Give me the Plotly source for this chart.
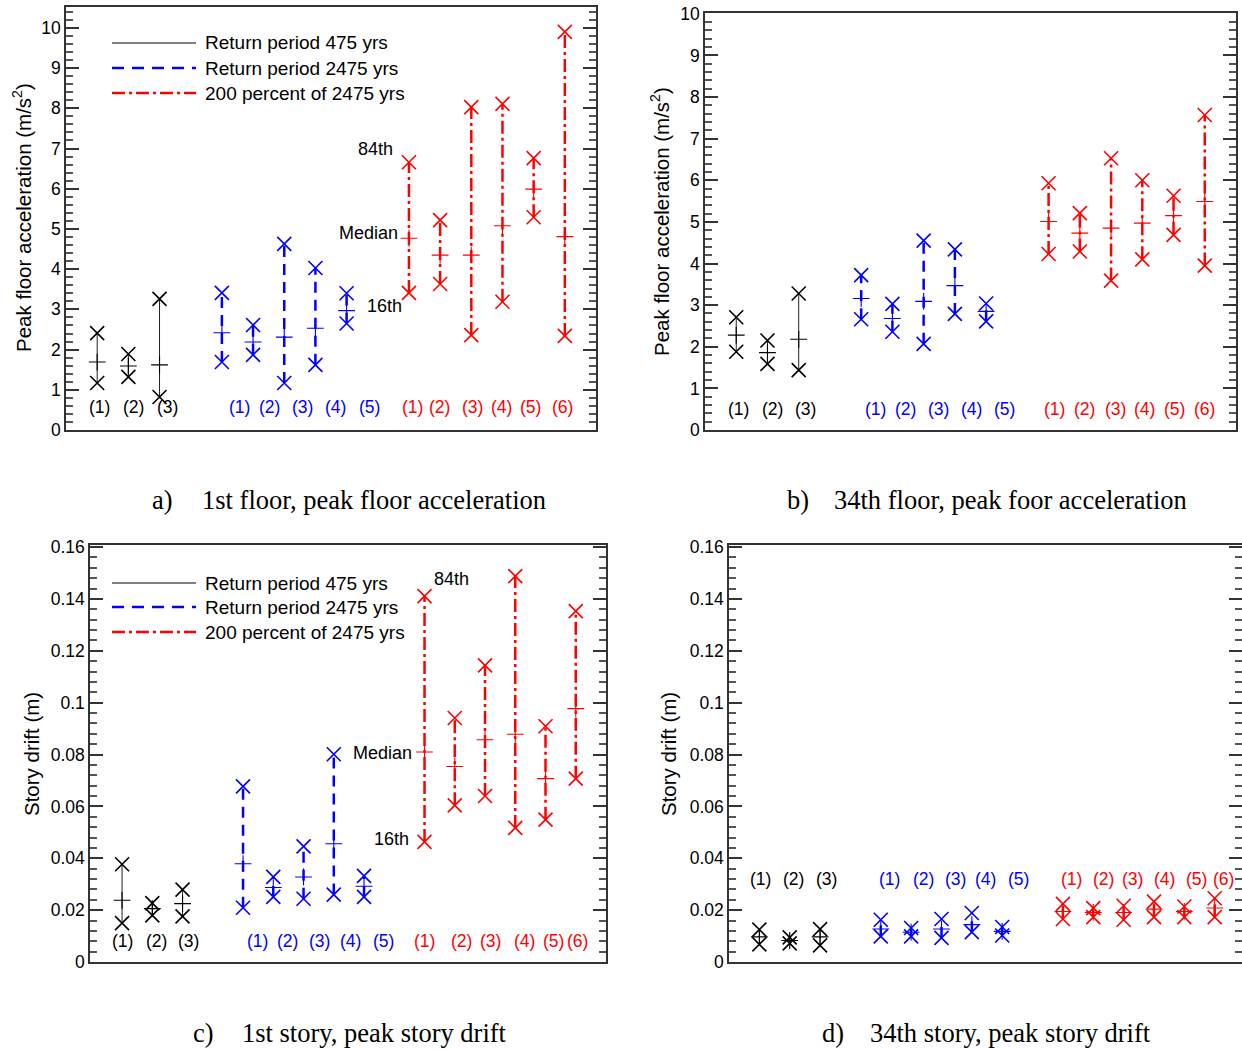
import plotly.graph_objects as go

# ---------------- DATA ----------------
black_x = [1, 2, 3]
blue_x = [5, 6, 7, 8, 9]
red_x = [11, 12, 13, 14, 15, 16]

black_labels = ["(1)", "(2)", "(3)"]
blue_labels = ["(1)", "(2)", "(3)", "(4)", "(5)"]
red_labels = ["(1)", "(2)", "(3)", "(4)", "(5)", "(6)"]

# a) 1st floor PFA (m/s2): 84th / median / 16th
a_black_hi = [2.41, 1.89, 3.26]
a_black_med = [1.69, 1.59, 1.62]
a_black_lo = [1.17, 1.32, 0.82]
a_blue_hi = [3.41, 2.61, 4.63, 4.03, 3.40]
a_blue_med = [2.42, 2.19, 2.31, 2.53, 2.97]
a_blue_lo = [1.69, 1.87, 1.17, 1.62, 2.65]
a_red_hi = [6.66, 5.22, 8.03, 8.11, 6.76, 9.90]
a_red_med = [4.77, 4.35, 4.35, 5.08, 5.99, 4.81]
a_red_lo = [3.41, 3.63, 2.36, 3.19, 5.29, 2.34]

# b) 34th floor PFA (m/s2)
b_black_hi = [2.71, 2.15, 3.28]
b_black_med = [2.28, 1.86, 2.18]
b_black_lo = [1.88, 1.59, 1.44]
b_blue_hi = [3.72, 3.03, 4.55, 4.34, 3.04]
b_blue_med = [3.16, 2.68, 3.09, 3.47, 2.85]
b_blue_lo = [2.66, 2.36, 2.07, 2.79, 2.61]
b_red_hi = [5.93, 5.21, 6.53, 6.00, 5.63, 7.57]
b_red_med = [5.01, 4.73, 4.85, 4.97, 5.15, 5.49]
b_red_lo = [4.23, 4.29, 3.59, 4.10, 4.69, 3.95]

# c) 1st story drift (m)
c_black_hi = [0.0377, 0.0227, 0.0279]
c_black_med = [0.0238, 0.0206, 0.0225]
c_black_lo = [0.0150, 0.0180, 0.0176]
c_blue_hi = [0.0677, 0.0328, 0.0446, 0.0801, 0.0332]
c_blue_med = [0.0379, 0.0287, 0.0328, 0.0456, 0.0292]
c_blue_lo = [0.0209, 0.0251, 0.0244, 0.0260, 0.0251]
c_red_hi = [0.1411, 0.0941, 0.1144, 0.1488, 0.0909, 0.1353]
c_red_med = [0.0810, 0.0754, 0.0857, 0.0878, 0.0707, 0.0977]
c_red_lo = [0.0463, 0.0604, 0.0640, 0.0517, 0.0549, 0.0707]

# d) 34th story drift (m)
d_black_hi = [0.0125, 0.0095, 0.0127]
d_black_med = [0.0097, 0.0083, 0.0097]
d_black_lo = [0.0068, 0.0072, 0.0064]
d_blue_hi = [0.0163, 0.0131, 0.0166, 0.0189, 0.0135]
d_blue_med = [0.0127, 0.0115, 0.0127, 0.0144, 0.0118]
d_blue_lo = [0.0099, 0.0099, 0.0093, 0.0115, 0.0102]
d_red_hi = [0.0224, 0.0208, 0.0217, 0.0233, 0.0214, 0.0246]
d_red_med = [0.0195, 0.0191, 0.0191, 0.0204, 0.0195, 0.0208]
d_red_lo = [0.0166, 0.0173, 0.0163, 0.0173, 0.0173, 0.0173]

legend_names = ["Return period 475 yrs", "Return period 2475 yrs", "200 percent of 2475 yrs"]

# ---------------- STYLE / LAYOUT ----------------
W, H = 1242, 1049
SANS = "Liberation Sans, Arial, sans-serif"
SERIF = "Liberation Serif, Times New Roman, serif"
BLACK, BLUE, RED = "#000000", "#0000FF", "#FF0000"
REDDASH = "13px,4px,3px,4px"
BLUEDASH = "11px,7px"

def px(x):
    return x / W

def py(y):
    return 1 - y / H

panels = {
    "a": dict(ax="1", xdom=[px(66), px(596)], ydom=[py(430), py(7)], xr=[0, 17], yr=[0, 10.52],
              dtick=1, mdtick=0.2,
              data=[(a_black_lo, a_black_med, a_black_hi), (a_blue_lo, a_blue_med, a_blue_hi),
                    (a_red_lo, a_red_med, a_red_hi)],
              labx=[[1.06, 2.15, 3.24], [5.55, 6.54, 7.60, 8.63, 9.72],
                    [11.10, 11.99, 13.05, 13.98, 14.91, 15.91]],
              laby=0.57),
    "b": dict(ax="2", xdom=[px(705), px(1236)], ydom=[py(430), py(13)], xr=[0, 17], yr=[0, 10.02],
              dtick=1, mdtick=0.2,
              data=[(b_black_lo, b_black_med, b_black_hi), (b_blue_lo, b_blue_med, b_blue_hi),
                    (b_red_lo, b_red_med, b_red_hi)],
              labx=[[1.06, 2.15, 3.21], [5.45, 6.42, 7.47, 8.53, 9.59],
                    [11.19, 12.15, 13.15, 14.08, 15.04, 16.0]],
              laby=0.5),
    "c": dict(ax="3", xdom=[px(90), px(606)], ydom=[py(962), py(545)], xr=[-0.06, 17], yr=[0, 0.1608],
              dtick=0.02, mdtick=0.004,
              data=[(c_black_lo, c_black_med, c_black_hi), (c_blue_lo, c_blue_med, c_blue_hi),
                    (c_red_lo, c_red_med, c_red_hi)],
              labx=[[1.0, 2.13, 3.19], [5.47, 6.46, 7.52, 8.55, 9.64],
                    [11.0, 12.23, 13.19, 14.31, 15.27, 16.07]],
              laby=0.0081),
    "d": dict(ax="4", xdom=[px(729), 1.0], ydom=[py(962), py(545)], xr=[0, 16.9], yr=[0, 0.1608],
              dtick=0.02, mdtick=0.004,
              data=[(d_black_lo, d_black_med, d_black_hi), (d_blue_lo, d_blue_med, d_blue_hi),
                    (d_red_lo, d_red_med, d_red_hi)],
              labx=[[1.05, 2.13, 3.22], [5.29, 6.41, 7.47, 8.45, 9.54],
                    [11.28, 12.34, 13.30, 14.36, 15.40, 16.28]],
              laby=0.032),
}

groups_x = [black_x, blue_x, red_x]
groups_lab = [black_labels, blue_labels, red_labels]
group_style = [
    dict(color=BLACK, lcolor="#222222", width=1, dash="solid"),
    dict(color=BLUE, lcolor=BLUE, width=2.5, dash=BLUEDASH),
    dict(color=RED, lcolor=RED, width=2.5, dash=REDDASH),
]

fig = go.Figure()
annotations = []
shapes = []
layout_axes = {}

for key, p in panels.items():
    ax = p["ax"]
    xa = "x" if ax == "1" else "x" + ax
    ya = "y" if ax == "1" else "y" + ax
    for gi, (lo, med, hi) in enumerate(p["data"]):
        xs = groups_x[gi]
        st = group_style[gi]
        lx, ly = [], []
        for x, l, h in zip(xs, lo, hi):
            lx += [x, x, None]
            ly += [l, h, None]
        fig.add_trace(go.Scatter(x=lx, y=ly, mode="lines", xaxis=xa, yaxis=ya,
                                 line=dict(color=st["lcolor"], width=st["width"], dash=st["dash"]),
                                 showlegend=False, hoverinfo="skip"))
        fig.add_trace(go.Scatter(x=xs + xs, y=list(lo) + list(hi), mode="markers", xaxis=xa, yaxis=ya,
                                 marker=dict(symbol="x-thin-open", size=14, color=st["color"],
                                             line=dict(color=st["color"], width=1.6)),
                                 showlegend=False, hoverinfo="skip"))
        fig.add_trace(go.Scatter(x=xs, y=med, mode="markers", xaxis=xa, yaxis=ya,
                                 marker=dict(symbol="cross-thin-open", size=12, color=st["color"],
                                             line=dict(color=st["color"], width=1.1)),
                                 showlegend=False, hoverinfo="skip"))
        for lbl, lxp in zip(groups_lab[gi], p["labx"][gi]):
            annotations.append(dict(x=lxp, y=p["laby"], xref=xa, yref=ya, text=lbl, showarrow=False,
                                    font=dict(family=SANS, size=17.5, color=st["color"]),
                                    xanchor="center", yanchor="middle"))
    axis_common = dict(showgrid=False, zeroline=False, showline=True, linecolor="#333333", linewidth=1.5)
    layout_axes["xaxis" if ax == "1" else "xaxis" + ax] = dict(
        domain=p["xdom"], range=p["xr"], anchor=ya, mirror=True, ticks="", showticklabels=False,
        automargin=False, **axis_common)
    layout_axes["yaxis" if ax == "1" else "yaxis" + ax] = dict(
        domain=p["ydom"], range=p["yr"], anchor=xa, mirror="ticks", ticks="inside",
        ticklen=13, tickwidth=1.5, tickcolor="#333333", dtick=p["dtick"], tick0=0,
        minor=dict(ticks="inside", ticklen=7, tickwidth=1.5, tickcolor="#555555", dtick=p["mdtick"], tick0=0),
        tickfont=dict(family=SANS, size=17.5, color="#000000"), automargin=False,
        **axis_common)

# y-axis titles
ytitles = [
    ("Peak floor acceleration (m/s<sup>2</sup>)", 22, 218),
    ("Peak floor acceleration (m/s<sup>2</sup>)", 660, 222),
    ("Story drift (m)", 31, 754),
    ("Story drift (m)", 668, 754),
]
for t, x, y in ytitles:
    annotations.append(dict(x=px(x), y=py(y), xref="paper", yref="paper", text=t, textangle=-90,
                            showarrow=False, font=dict(family=SANS, size=20.5, color="#000000"),
                            xanchor="center", yanchor="middle"))

# subtitles
subs = [
    ("a)", 150, "1st floor, peak floor acceleration", 200, 500),
    ("b)", 785, "34th floor, peak foor acceleration", 832, 500),
    ("c)", 191, "1st story, peak story drift", 240, 1033),
    ("d)", 820, "34th story, peak story drift", 868, 1033),
]
for lab, lx, txt, tx, y in subs:
    annotations.append(dict(x=px(lx), y=py(y), xref="paper", yref="paper", text=lab, showarrow=False,
                            font=dict(family=SERIF, size=26.5, color="#000000"),
                            xanchor="left", yanchor="middle"))
    annotations.append(dict(x=px(tx), y=py(y), xref="paper", yref="paper", text=txt, showarrow=False,
                            font=dict(family=SERIF, size=26.5, color="#000000"),
                            xanchor="left", yanchor="middle"))

# percentile annotations
pct = [
    ("84th", "x", "y", 10.55, 7.0, "right"),
    ("Median", "x", "y", 10.72, 4.9, "right"),
    ("16th", "x", "y", 10.84, 3.08, "right"),
    ("84th", "x3", "y3", 11.25, 0.1477, "left"),
    ("Median", "x3", "y3", 10.64, 0.0806, "right"),
    ("16th", "x3", "y3", 10.54, 0.0474, "right"),
]
for t, xa, ya, x, y, anc in pct:
    annotations.append(dict(x=x, y=y, xref=xa, yref=ya, text=t, showarrow=False,
                            font=dict(family=SANS, size=18, color="#000000"),
                            xanchor=anc, yanchor="middle"))

# legends (panel a and c)
leg_styles = [
    dict(color=BLACK, width=1, dash="solid"),
    dict(color=BLUE, width=2.5, dash="12px,8px"),
    dict(color=RED, width=2.5, dash=REDDASH),
]
for ys in ([43, 68, 93], [583, 607, 632]):
    for name, st, y in zip(legend_names, leg_styles, ys):
        shapes.append(dict(type="line", xref="paper", yref="paper", x0=px(112), x1=px(196),
                           y0=py(y), y1=py(y), line=st))
        annotations.append(dict(x=px(203), y=py(y), xref="paper", yref="paper", text=name,
                                showarrow=False, font=dict(family=SANS, size=19, color="#000000"),
                                xanchor="left", yanchor="middle"))

fig.update_layout(
    width=W, height=H, margin=dict(l=0, r=0, t=0, b=0, pad=0, autoexpand=False),
    paper_bgcolor="white", plot_bgcolor="white", showlegend=False,
    annotations=annotations, shapes=shapes, **layout_axes,
)

fig.write_html("out.html", config={"displayModeBar": False},
               post_script="document.body.style.margin='0';document.body.style.overflow='hidden';")
